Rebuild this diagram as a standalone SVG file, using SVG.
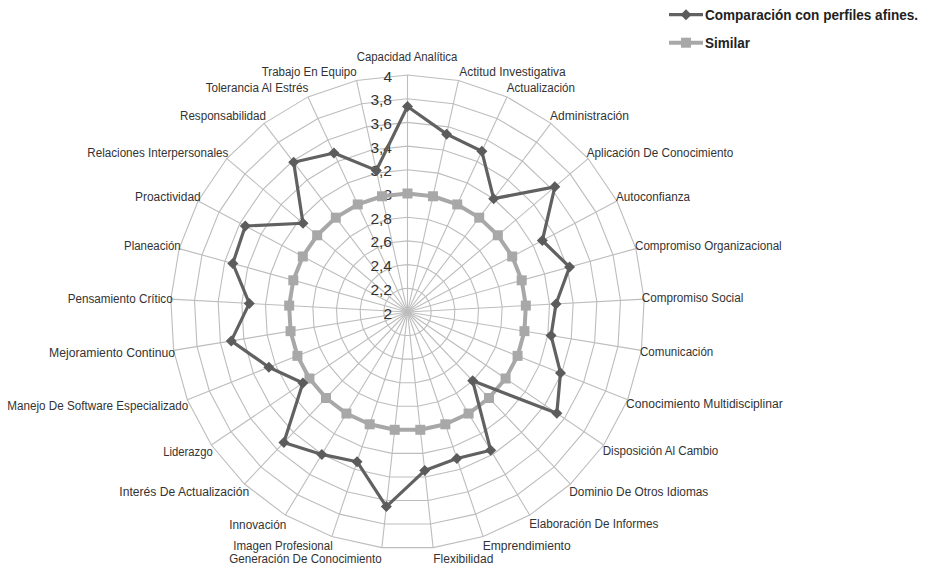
<svg xmlns="http://www.w3.org/2000/svg" xmlns:xlink="http://www.w3.org/1999/xlink" width="927" height="566" viewBox="0 0 927 566">
<style>
.grid{fill:none;stroke:#bdbdbd}
.spoke{stroke:#bdbdbd;stroke-width:1.1}
.lbl{font-family:"Liberation Sans",Arial,sans-serif;font-size:12.5px;fill:#333333}
.tick{font-family:"Liberation Sans",Arial,sans-serif;font-size:15.5px;fill:#333333;text-anchor:end}
.leg{font-family:"Liberation Sans",Arial,sans-serif;font-size:14px;font-weight:bold;fill:#222222}
.s1{fill:none;stroke:#616161;stroke-width:3.2;stroke-linejoin:round}
.s2{fill:none;stroke:#a8a8a8;stroke-width:4;stroke-linejoin:round}
</style>
<defs>
<polygon id="ring" points="0,-100 21.497,-97.662 41.989,-90.758 60.518,-79.610 76.217,-64.740 88.352,-46.841 96.355,-26.753 99.853,-5.414 98.683,16.178 92.898,37.014 82.769,56.119 68.770,72.599 51.556,85.686 31.930,94.766 10.812,99.414 -10.812,99.414 -31.930,94.766 -51.556,85.686 -68.770,72.599 -82.769,56.119 -92.898,37.014 -98.683,16.178 -99.853,-5.414 -96.355,-26.753 -88.352,-46.841 -76.217,-64.740 -60.518,-79.610 -41.989,-90.758 -21.497,-97.662"/>
<rect id="sq" x="-5" y="-5" width="10" height="10" fill="#a8a8a8"/>
<polygon id="dm" points="0,-5.5 5.5,0 0,5.5 -5.5,0" fill="#5c5c5c"/>
</defs>
<rect width="927" height="566" fill="#ffffff"/>
<g id="grid" class="grid">
<use xlink:href="#ring" transform="translate(407.5 312) scale(0.237)" stroke-width="4.64"/>
<use xlink:href="#ring" transform="translate(407.5 312) scale(0.474)" stroke-width="2.32"/>
<use xlink:href="#ring" transform="translate(407.5 312) scale(0.711)" stroke-width="1.547"/>
<use xlink:href="#ring" transform="translate(407.5 312) scale(0.948)" stroke-width="1.16"/>
<use xlink:href="#ring" transform="translate(407.5 312) scale(1.185)" stroke-width="0.928"/>
<use xlink:href="#ring" transform="translate(407.5 312) scale(1.422)" stroke-width="0.774"/>
<use xlink:href="#ring" transform="translate(407.5 312) scale(1.659)" stroke-width="0.663"/>
<use xlink:href="#ring" transform="translate(407.5 312) scale(1.896)" stroke-width="0.580"/>
<use xlink:href="#ring" transform="translate(407.5 312) scale(2.133)" stroke-width="0.516"/>
<use xlink:href="#ring" transform="translate(407.5 312) scale(2.37)" stroke-width="0.464"/>
</g>
<g id="spokes" class="spoke">
<line x1="407.5" y1="312" x2="407.5" y2="75"/>
<line x1="407.5" y1="312" x2="458.45" y2="80.54"/>
<line x1="407.5" y1="312" x2="507.01" y2="96.90"/>
<line x1="407.5" y1="312" x2="550.93" y2="123.32"/>
<line x1="407.5" y1="312" x2="588.13" y2="158.57"/>
<line x1="407.5" y1="312" x2="616.89" y2="200.99"/>
<line x1="407.5" y1="312" x2="635.86" y2="248.60"/>
<line x1="407.5" y1="312" x2="644.15" y2="299.17"/>
<line x1="407.5" y1="312" x2="641.38" y2="350.34"/>
<line x1="407.5" y1="312" x2="627.67" y2="399.72"/>
<line x1="407.5" y1="312" x2="603.66" y2="445.00"/>
<line x1="407.5" y1="312" x2="570.48" y2="484.06"/>
<line x1="407.5" y1="312" x2="529.69" y2="515.08"/>
<line x1="407.5" y1="312" x2="483.17" y2="536.60"/>
<line x1="407.5" y1="312" x2="433.12" y2="547.61"/>
<line x1="407.5" y1="312" x2="381.88" y2="547.61"/>
<line x1="407.5" y1="312" x2="331.83" y2="536.60"/>
<line x1="407.5" y1="312" x2="285.31" y2="515.08"/>
<line x1="407.5" y1="312" x2="244.52" y2="484.06"/>
<line x1="407.5" y1="312" x2="211.34" y2="445.00"/>
<line x1="407.5" y1="312" x2="187.33" y2="399.72"/>
<line x1="407.5" y1="312" x2="173.62" y2="350.34"/>
<line x1="407.5" y1="312" x2="170.85" y2="299.17"/>
<line x1="407.5" y1="312" x2="179.14" y2="248.60"/>
<line x1="407.5" y1="312" x2="198.11" y2="200.99"/>
<line x1="407.5" y1="312" x2="226.87" y2="158.57"/>
<line x1="407.5" y1="312" x2="264.07" y2="123.32"/>
<line x1="407.5" y1="312" x2="307.99" y2="96.90"/>
<line x1="407.5" y1="312" x2="356.55" y2="80.54"/>
</g>
<g id="ticks">
<text class="tick" x="392" y="318.5">2</text>
<text class="tick" x="392" y="294.8">2,2</text>
<text class="tick" x="392" y="271.1">2,4</text>
<text class="tick" x="392" y="247.4">2,6</text>
<text class="tick" x="392" y="223.7">2,8</text>
<text class="tick" x="392" y="200">3</text>
<text class="tick" x="392" y="176.3">3,2</text>
<text class="tick" x="392" y="152.6">3,4</text>
<text class="tick" x="392" y="128.9">3,6</text>
<text class="tick" x="392" y="105.2">3,8</text>
<text class="tick" x="392" y="81.5">4</text>
</g>
<g id="labels" class="lbl">
<text x="356.7" y="60.7" textLength="100.6" lengthAdjust="spacingAndGlyphs">Capacidad Analítica</text>
<text x="459.3" y="75.7" textLength="106.4" lengthAdjust="spacingAndGlyphs">Actitud Investigativa</text>
<text x="506.7" y="92.3" textLength="68.3" lengthAdjust="spacingAndGlyphs">Actualización</text>
<text x="550" y="120" textLength="79" lengthAdjust="spacingAndGlyphs">Administración</text>
<text x="586.7" y="156.7" textLength="146.6" lengthAdjust="spacingAndGlyphs">Aplicación De Conocimiento</text>
<text x="616" y="200.7" textLength="74" lengthAdjust="spacingAndGlyphs">Autoconfianza</text>
<text x="635" y="250" textLength="146.7" lengthAdjust="spacingAndGlyphs">Compromiso Organizacional</text>
<text x="641.7" y="302.3" textLength="101.6" lengthAdjust="spacingAndGlyphs">Compromiso Social</text>
<text x="640" y="356.3" textLength="73.3" lengthAdjust="spacingAndGlyphs">Comunicación</text>
<text x="626" y="408.3" textLength="156.7" lengthAdjust="spacingAndGlyphs">Conocimiento Multidisciplinar</text>
<text x="602.7" y="455" textLength="115.6" lengthAdjust="spacingAndGlyphs">Disposición Al Cambio</text>
<text x="569.3" y="496.3" textLength="139" lengthAdjust="spacingAndGlyphs">Dominio De Otros Idiomas</text>
<text x="529.3" y="528" textLength="129" lengthAdjust="spacingAndGlyphs">Elaboración De Informes</text>
<text x="482.7" y="549.7" textLength="88" lengthAdjust="spacingAndGlyphs">Emprendimiento</text>
<text x="433.3" y="563" textLength="60" lengthAdjust="spacingAndGlyphs">Flexibilidad</text>
<text x="229.3" y="563" textLength="152.4" lengthAdjust="spacingAndGlyphs">Generación De Conocimiento</text>
<text x="233.3" y="549.7" textLength="99.4" lengthAdjust="spacingAndGlyphs">Imagen Profesional</text>
<text x="229.3" y="529" textLength="57" lengthAdjust="spacingAndGlyphs">Innovación</text>
<text x="119.3" y="496.3" textLength="130" lengthAdjust="spacingAndGlyphs">Interés De Actualización</text>
<text x="163.3" y="456.3" textLength="49.4" lengthAdjust="spacingAndGlyphs">Liderazgo</text>
<text x="7.3" y="409.7" textLength="181" lengthAdjust="spacingAndGlyphs">Manejo De Software Especializado</text>
<text x="49" y="356.7" textLength="126" lengthAdjust="spacingAndGlyphs">Mejoramiento Continuo</text>
<text x="67.7" y="303.3" textLength="105" lengthAdjust="spacingAndGlyphs">Pensamiento Crítico</text>
<text x="124" y="250" textLength="56.7" lengthAdjust="spacingAndGlyphs">Planeación</text>
<text x="135" y="200.7" textLength="65.7" lengthAdjust="spacingAndGlyphs">Proactividad</text>
<text x="87.3" y="156.7" textLength="141" lengthAdjust="spacingAndGlyphs">Relaciones Interpersonales</text>
<text x="180" y="120" textLength="86" lengthAdjust="spacingAndGlyphs">Responsabilidad</text>
<text x="205.7" y="92.3" textLength="102.6" lengthAdjust="spacingAndGlyphs">Tolerancia Al Estrés</text>
<text x="261.7" y="75.7" textLength="95" lengthAdjust="spacingAndGlyphs">Trabajo En Equipo</text>
</g>
<g id="series-similar">
<polygon class="s2" points="407.5,193.5 432.97,196.27 457.26,204.45 479.21,217.66 497.82,235.28 512.20,256.49 521.68,280.30 525.83,305.58 524.44,331.17 517.58,355.86 505.58,378.50 488.99,398.03 468.59,413.54 445.34,424.30 420.31,429.81 394.69,429.81 369.66,424.30 346.41,413.54 326.01,398.03 309.42,378.50 297.42,355.86 290.56,331.17 289.17,305.58 293.32,280.30 302.80,256.49 317.18,235.28 335.79,217.66 357.74,204.45 382.03,196.27"/>
<use xlink:href="#sq" x="407.5" y="193.5"/><use xlink:href="#sq" x="432.97" y="196.27"/><use xlink:href="#sq" x="457.26" y="204.45"/><use xlink:href="#sq" x="479.21" y="217.66"/><use xlink:href="#sq" x="497.82" y="235.28"/><use xlink:href="#sq" x="512.20" y="256.49"/><use xlink:href="#sq" x="521.68" y="280.30"/><use xlink:href="#sq" x="525.83" y="305.58"/><use xlink:href="#sq" x="524.44" y="331.17"/><use xlink:href="#sq" x="517.58" y="355.86"/><use xlink:href="#sq" x="505.58" y="378.50"/><use xlink:href="#sq" x="488.99" y="398.03"/><use xlink:href="#sq" x="468.59" y="413.54"/><use xlink:href="#sq" x="445.34" y="424.30"/><use xlink:href="#sq" x="420.31" y="429.81"/><use xlink:href="#sq" x="394.69" y="429.81"/><use xlink:href="#sq" x="369.66" y="424.30"/><use xlink:href="#sq" x="346.41" y="413.54"/><use xlink:href="#sq" x="326.01" y="398.03"/><use xlink:href="#sq" x="309.42" y="378.50"/><use xlink:href="#sq" x="297.42" y="355.86"/><use xlink:href="#sq" x="290.56" y="331.17"/><use xlink:href="#sq" x="289.17" y="305.58"/><use xlink:href="#sq" x="293.32" y="280.30"/><use xlink:href="#sq" x="302.80" y="256.49"/><use xlink:href="#sq" x="317.18" y="235.28"/><use xlink:href="#sq" x="335.79" y="217.66"/><use xlink:href="#sq" x="357.74" y="204.45"/><use xlink:href="#sq" x="382.03" y="196.27"/>
</g>
<g id="series-comparacion">
<polygon class="s1" points="407.5,106.5 446.65,134.16 481.86,151.27 493.68,198.64 554.83,186.86 542.33,240.52 569.57,267.0 555.98,303.95 551.08,335.54 560.50,372.96 556.81,413.24 472.69,380.82 490.71,450.30 456.86,458.51 424.75,470.57 386.34,506.55 357.05,461.73 321.81,454.41 283.85,442.53 302.88,382.93 268.90,367.23 231.25,340.89 249.33,303.42 232.81,263.50 245.29,226.00 303.01,223.24 293.67,162.25 333.94,152.99 376.33,170.39"/>
<use xlink:href="#dm" x="407.5" y="106.5"/><use xlink:href="#dm" x="446.65" y="134.16"/><use xlink:href="#dm" x="481.86" y="151.27"/><use xlink:href="#dm" x="493.68" y="198.64"/><use xlink:href="#dm" x="554.83" y="186.86"/><use xlink:href="#dm" x="542.33" y="240.52"/><use xlink:href="#dm" x="569.57" y="267.0"/><use xlink:href="#dm" x="555.98" y="303.95"/><use xlink:href="#dm" x="551.08" y="335.54"/><use xlink:href="#dm" x="560.50" y="372.96"/><use xlink:href="#dm" x="556.81" y="413.24"/><use xlink:href="#dm" x="472.69" y="380.82"/><use xlink:href="#dm" x="490.71" y="450.30"/><use xlink:href="#dm" x="456.86" y="458.51"/><use xlink:href="#dm" x="424.75" y="470.57"/><use xlink:href="#dm" x="386.34" y="506.55"/><use xlink:href="#dm" x="357.05" y="461.73"/><use xlink:href="#dm" x="321.81" y="454.41"/><use xlink:href="#dm" x="283.85" y="442.53"/><use xlink:href="#dm" x="302.88" y="382.93"/><use xlink:href="#dm" x="268.90" y="367.23"/><use xlink:href="#dm" x="231.25" y="340.89"/><use xlink:href="#dm" x="249.33" y="303.42"/><use xlink:href="#dm" x="232.81" y="263.50"/><use xlink:href="#dm" x="245.29" y="226.00"/><use xlink:href="#dm" x="303.01" y="223.24"/><use xlink:href="#dm" x="293.67" y="162.25"/><use xlink:href="#dm" x="333.94" y="152.99"/><use xlink:href="#dm" x="376.33" y="170.39"/>
</g>
<g id="legend">
<line class="s1" x1="669" y1="14.7" x2="703" y2="14.7"/>
<use xlink:href="#dm" x="686" y="14.7"/>
<text class="leg" x="705" y="19.7" textLength="213" lengthAdjust="spacingAndGlyphs">Comparación con perfiles afines.</text>
<line class="s2" x1="669" y1="42.7" x2="703" y2="42.7"/>
<use xlink:href="#sq" x="686" y="42.7"/>
<text class="leg" x="705" y="48" textLength="45" lengthAdjust="spacingAndGlyphs">Similar</text>
</g>
</svg>
